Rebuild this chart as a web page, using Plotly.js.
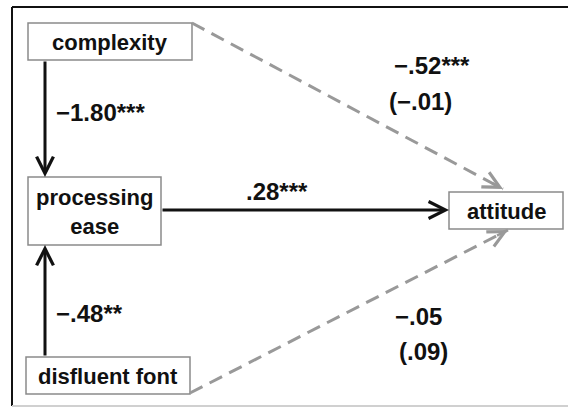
<!DOCTYPE html>
<html>
<head>
<meta charset="utf-8">
<script src="https://cdn.plot.ly/plotly-3.0.1.min.js"></script>
<style>html,body{margin:0;padding:0;background:#fff;}#chart{width:568px;height:408px;}</style>
</head>
<body>
<div id="chart"></div>
<script>
// ---- data ----
var nodeNames = ["complexity", "processing<br>ease", "disfluent font", "attitude"];
var pathFrom = [0, 2, 1, 0, 2];
var pathTo = [1, 1, 3, 3, 3];
var pathCoef = ["\u22121.80", "\u2212.48", ".28", "\u2212.52", "\u2212.05"];
var pathStars = ["***", "**", "***", "***", ""];
var pathDirect = [null, null, null, "(\u2212.01)", "(.09)"];
var pathDashed = [false, false, false, true, true];

// ---- layout geometry ----
var boxes = [
  {x0: 28, x1: 192, y0: 23, y1: 60},
  {x0: 28, x1: 161, y0: 177, y1: 245},
  {x0: 26, x1: 190, y0: 357, y1: 394},
  {x0: 449, x1: 563, y0: 192, y1: 229}
];
var pathGeom = [
  {sx: 45, sy: 60, ex: 45, ey: 177, lx: 54, ly: 112, anchor: "left"},
  {sx: 45, sy: 357, ex: 45, ey: 245, lx: 54, ly: 313, anchor: "left"},
  {sx: 161, sy: 210, ex: 449, ey: 210, lx: 277, ly: 191, anchor: "center"},
  {sx: 192, sy: 23, ex: 503, ey: 189, lx: 432, ly: 65, anchor: "center", dx: 420, dy: 101},
  {sx: 190, sy: 393, ex: 508, ey: 230, lx: 418, ly: 316, anchor: "center", dx: 423, dy: 351}
];

var FONT = "'Liberation Sans', Arial, sans-serif";
var shapes = [];
var annotations = [];

// frame
shapes.push({type: "line", xref: "x", yref: "y", x0: 12, x1: 12, y0: 7, y1: 406, line: {color: "#111", width: 2}});
shapes.push({type: "line", xref: "x", yref: "y", x0: 12, x1: 568, y0: 7, y1: 7, line: {color: "#111", width: 2}});
shapes.push({type: "line", xref: "x", yref: "y", x0: 12, x1: 568, y0: 406, y1: 406, line: {color: "#d0d0d0", width: 2}});

// node boxes and labels
nodeNames.forEach(function (name, i) {
  var b = boxes[i];
  shapes.push({type: "rect", xref: "x", yref: "y", x0: b.x0, x1: b.x1, y0: b.y0, y1: b.y1,
    line: {color: "#8a8a8a", width: 1.5}, fillcolor: "#ffffff", layer: "above"});
  annotations.push({x: (b.x0 + b.x1) / 2, y: (b.y0 + b.y1) / 2 + 1, xref: "x", yref: "y",
    text: "<b>" + name + "</b>", showarrow: false, xanchor: "center", yanchor: "middle",
    font: {family: FONT, size: 22, color: "#111"}});
});

// paths
pathCoef.forEach(function (c, i) {
  var g = pathGeom[i];
  var dashed = pathDashed[i];
  var col = dashed ? "#999999" : "#111111";
  if (dashed) {
    shapes.push({type: "line", xref: "x", yref: "y", x0: g.sx, y0: g.sy, x1: g.ex, y1: g.ey,
      line: {color: col, width: 3, dash: "14px,8px"}});
    var dx = g.ex - g.sx, dy = g.ey - g.sy, L = Math.sqrt(dx * dx + dy * dy);
    annotations.push({x: g.ex, y: g.ey, ax: g.ex - dx / L * 14, ay: g.ey - dy / L * 14,
      xref: "x", yref: "y", axref: "x", ayref: "y", text: "", showarrow: true,
      arrowhead: 5, arrowsize: 1.3, arrowwidth: 2.5, arrowcolor: col});
  } else {
    annotations.push({x: g.ex, y: g.ey, ax: g.sx, ay: g.sy,
      xref: "x", yref: "y", axref: "x", ayref: "y", text: "", showarrow: true,
      arrowhead: 5, arrowsize: 1.1, arrowwidth: 3, arrowcolor: col});
  }
  var txt = "<b>" + c + pathStars[i] + "</b>";
  annotations.push({x: g.lx, y: g.ly, xref: "x", yref: "y", text: txt, showarrow: false,
    xanchor: g.anchor, yanchor: "middle", font: {family: FONT, size: 24, color: "#111"}});
  if (pathDirect[i]) {
    annotations.push({x: g.dx, y: g.dy, xref: "x", yref: "y", text: "<b>" + pathDirect[i] + "</b>",
      showarrow: false, xanchor: "center", yanchor: "middle", font: {family: FONT, size: 24, color: "#111"}});
  }
});

var layout = {
  width: 568, height: 408,
  margin: {l: 0, r: 0, t: 0, b: 0},
  paper_bgcolor: "#fff", plot_bgcolor: "#fff",
  xaxis: {range: [0, 568], visible: false, fixedrange: true},
  yaxis: {range: [408, 0], visible: false, fixedrange: true},
  showlegend: false,
  shapes: shapes,
  annotations: annotations
};

Plotly.newPlot("chart", [], layout, {staticPlot: true, displayModeBar: false});
</script>
</body>
</html>
